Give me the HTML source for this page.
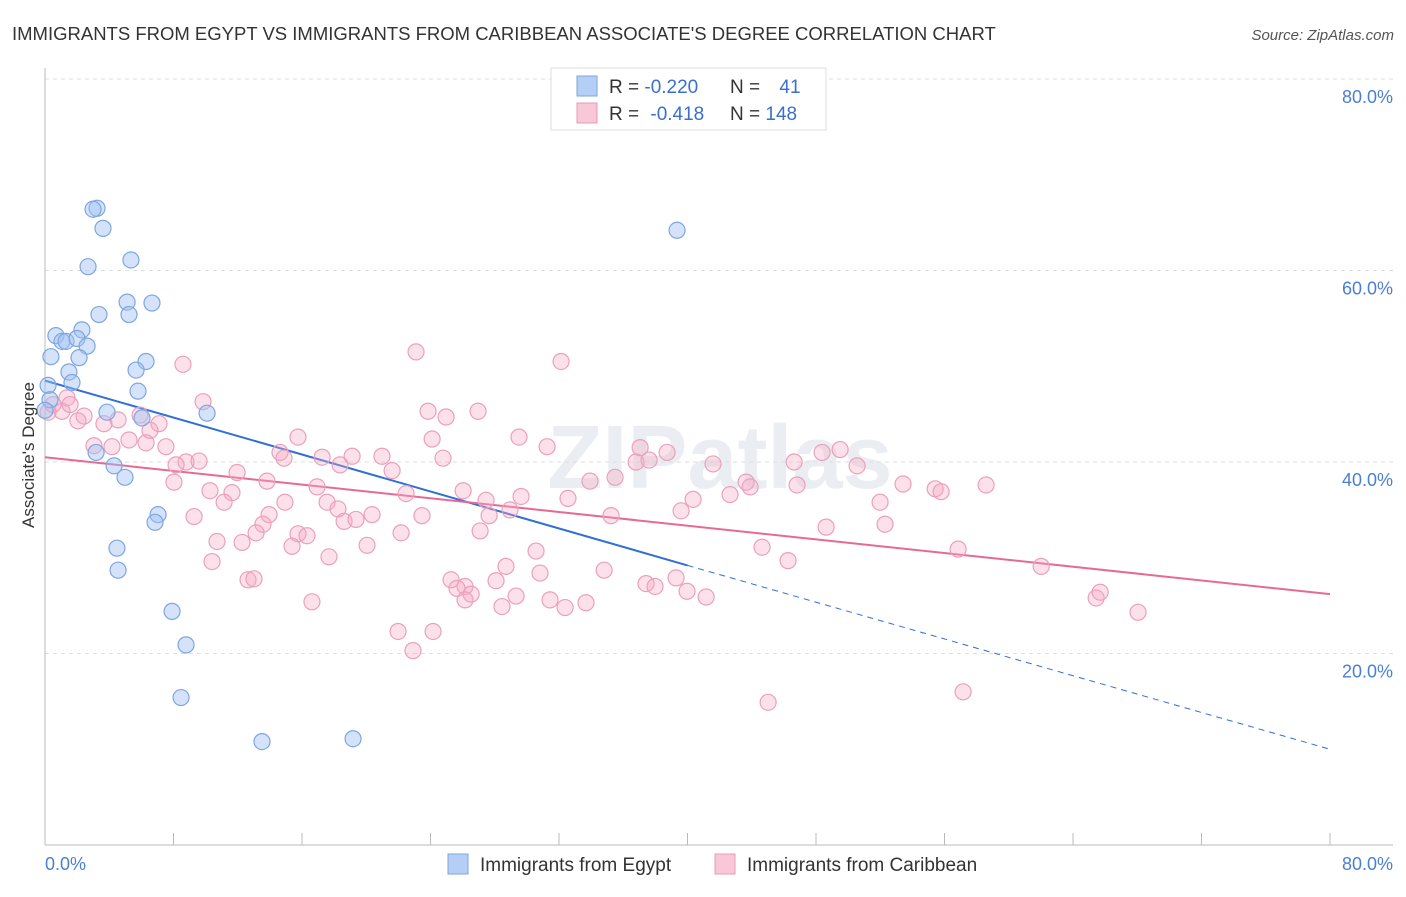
<!DOCTYPE html>
<html><head><meta charset="utf-8"><style>
body{margin:0;background:#fff;font-family:"Liberation Sans",sans-serif}
svg text{font-family:"Liberation Sans",sans-serif}
</style></head><body>
<svg id="chart" width="1406" height="892" viewBox="0 0 1406 892" xmlns="http://www.w3.org/2000/svg">
<text x="12" y="40" font-size="18.5" fill="#333">IMMIGRANTS FROM EGYPT VS IMMIGRANTS FROM CARIBBEAN ASSOCIATE'S DEGREE CORRELATION CHART</text>
<text x="1394" y="40" font-size="15" fill="#555" text-anchor="end" font-style="italic">Source: ZipAtlas.com</text>
<text x="720" y="488" font-size="90" fill="#dde3ea" text-anchor="middle" font-weight="bold" opacity="0.6">ZIPatlas</text>
<g id="grid"></g>
<g id="axes"></g>
<g id="lines"></g>
<g id="points"></g>
<text transform="translate(34,455) rotate(-90)" font-size="17" fill="#333" text-anchor="middle">Associate's Degree</text>
<text x="45" y="870" font-size="18" fill="#4a7fd4">0.0%</text>
<text x="1393" y="870" font-size="18" fill="#4a7fd4" text-anchor="end">80.0%</text>
<g>
<rect x="551" y="68" width="275" height="62" fill="#fff" stroke="#ddd"/>
<rect x="577" y="76" width="20" height="20" fill="#b5cef5" stroke="#7ea6e0"/>
<rect x="577" y="103" width="20" height="20" fill="#f9c8d8" stroke="#e89ab5"/>
<text x="609" y="93" font-size="19" fill="#333">R = <tspan fill="#3a6fd0">-0.220</tspan></text>
<text x="730" y="93" font-size="19" fill="#333">N = <tspan fill="#3a6fd0" dx="14">41</tspan></text>
<text x="609" y="120" font-size="19" fill="#333">R = <tspan fill="#3a6fd0" dx="6">-0.418</tspan></text>
<text x="730" y="120" font-size="19" fill="#333">N = <tspan fill="#3a6fd0">148</tspan></text>
</g>
<g>
<rect x="448" y="854" width="20" height="20" fill="#b5cef5" stroke="#7ea6e0"/>
<text x="480" y="871" font-size="19" fill="#333">Immigrants from Egypt</text>
<rect x="715" y="854" width="20" height="20" fill="#f9c8d8" stroke="#e89ab5"/>
<text x="747" y="871" font-size="19" fill="#333">Immigrants from Caribbean</text>
</g>
</svg>
<script>
const yTicks=[20,40,60,80];
const yTickLabels=["20.0%","40.0%","60.0%","80.0%"];
const xTicks=[0,8,16,24,32,40,48,56,64,72,80];
const blueX=[3.24,2.99,3.61,2.68,5.35,5.11,6.66,5.23,3.36,2.30,0.68,1.06,1.31,1.99,2.62,0.37,2.12,6.29,5.67,1.49,1.68,5.79,0.19,3.86,10.09,6.04,3.18,4.30,4.98,7.04,6.85,4.48,4.55,7.91,8.78,8.47,13.51,19.18,39.35,0.31,0];
const blueY=[66.5,66.4,64.4,60.4,61.1,56.7,56.6,55.4,55.4,53.8,53.2,52.6,52.6,52.9,52.1,51.0,50.9,50.5,49.6,49.4,48.3,47.4,48.0,45.2,45.1,44.6,41.0,39.6,38.4,34.5,33.7,31.0,28.7,24.4,20.9,15.4,10.8,11.1,64.2,46.5,45.4];
const pinkX=[8.59,23.10,32.13,9.84,1.37,0.50,1.06,1.56,0.19,2.43,2.05,3.67,4.55,5.92,7.10,6.54,5.23,3.05,4.17,6.29,7.53,8.78,8.16,9.59,11.96,14.63,15.75,14.88,17.25,18.37,19.12,20.98,21.61,24.78,23.85,24.97,24.10,26.96,29.51,31.26,37.05,36.80,37.61,38.73,41.59,46.64,48.38,49.50,50.56,8.03,10.27,11.64,11.15,13.82,14.94,16.94,17.56,18.24,22.48,26.03,27.46,29.64,32.56,33.93,35.49,40.35,42.65,43.65,46.82,51.99,53.42,55.42,55.79,58.59,9.28,13.95,13.57,15.75,16.31,18.62,19.36,20.36,23.47,27.65,27.09,28.95,35.24,39.60,48.63,52.30,10.71,12.27,13.14,20.05,22.17,15.38,17.68,10.40,30.57,44.64,46.26,56.85,62.02,12.64,13.01,25.28,26.15,25.65,26.53,28.08,28.70,30.82,34.81,37.42,37.98,39.29,39.97,41.16,16.62,29.33,31.44,32.38,33.68,28.45,21.98,24.16,22.91,65.44,65.69,68.05,57.16,45.02,26.15,43.90];
const pinkY=[50.2,51.5,50.5,46.3,46.7,46.0,45.3,46.0,45.2,44.8,44.3,44.0,44.4,44.9,44.0,43.3,42.3,41.7,41.6,42.0,41.6,40.0,39.7,40.1,38.9,41.0,42.6,40.4,40.5,39.7,40.6,40.6,39.1,40.4,45.3,44.7,42.4,45.3,42.6,41.6,41.5,40.0,40.2,41.0,39.8,40.0,41.0,41.3,39.6,37.9,37.0,36.8,35.8,38.0,35.8,37.4,35.8,35.1,36.7,37.0,36.0,36.4,36.2,38.0,38.4,36.1,36.6,37.9,37.6,35.8,37.7,37.2,36.9,37.6,34.3,34.5,33.5,32.5,32.3,33.8,34.0,34.5,34.4,34.4,32.8,35.0,34.4,34.9,33.2,33.5,31.7,31.6,32.6,31.3,32.6,31.2,30.1,29.6,30.7,31.1,29.7,30.9,29.1,27.7,27.8,27.7,27.0,26.8,26.2,27.6,29.1,28.4,28.7,27.3,27.0,27.9,26.5,25.9,25.4,26.0,25.6,24.8,25.3,24.9,22.3,22.3,20.3,25.8,26.4,24.3,16.0,14.9,25.6,37.4];
const blueTrend=[48.5,29.2,10.0]; // y at x=0, x=40 (solid end), x=80
const pinkTrend=[40.5,26.2];     // y at x=0, x=80
const NS="http://www.w3.org/2000/svg";
const X=v=>45+v*(1330-45)/80;
const Y=v=>845-v*(845-79)/80;
function mk(t,a,p){const e=document.createElementNS(NS,t);for(const k in a)e.setAttribute(k,a[k]);p.appendChild(e);return e;}
const grid=document.getElementById('grid'),axes=document.getElementById('axes'),lines=document.getElementById('lines'),pts=document.getElementById('points');
yTicks.forEach((t,i)=>{
 const l=mk('line',{x1:45,x2:1393,y1:Y(t),y2:Y(t),stroke:'#ddd','stroke-dasharray':'4,4'},grid);
 
 
 const tx=mk('text',{x:1393,y:Y(t)+24,'font-size':18,fill:'#4a7fd4','text-anchor':'end'},axes);
 tx.textContent=yTickLabels[i];
 
 
});
const la=mk('line',{x1:45,x2:45,y1:68,y2:845,stroke:'#bbb'},axes);


const lb=mk('line',{x1:45,x2:1393,y1:845,y2:845,stroke:'#bbb'},axes);


xTicks.forEach(t=>{
 const k=mk('line',{x1:X(t),x2:X(t),y1:833,y2:845,stroke:'#bbb'},axes);
 
 
});
pinkX.forEach((x,i)=>{
 const c=mk('circle',{cx:X(x),cy:Y(pinkY[i]),r:8,fill:'rgba(246,170,196,0.35)',stroke:'#eba0bb','stroke-width':1.2},pts);
 
 
});
blueX.forEach((x,i)=>{
 const c=mk('circle',{cx:X(x),cy:Y(blueY[i]),r:8,fill:'rgba(160,192,242,0.45)',stroke:'#7ea6e0','stroke-width':1.2},pts);
 
 
});
const b1=mk('line',{x1:X(0),y1:Y(blueTrend[0]),x2:X(40),y2:Y(blueTrend[1]),stroke:'#2f6fd6','stroke-width':2},lines);


const b2=mk('line',{x1:X(40),y1:Y(blueTrend[1]),x2:X(80),y2:Y(blueTrend[2]),stroke:'#2f6fd6','stroke-width':1,'stroke-dasharray':'6,5'},lines);


const p1=mk('line',{x1:X(0),y1:Y(pinkTrend[0]),x2:X(80),y2:Y(pinkTrend[1]),stroke:'#e66a96','stroke-width':2},lines);


</script>
</body></html>
